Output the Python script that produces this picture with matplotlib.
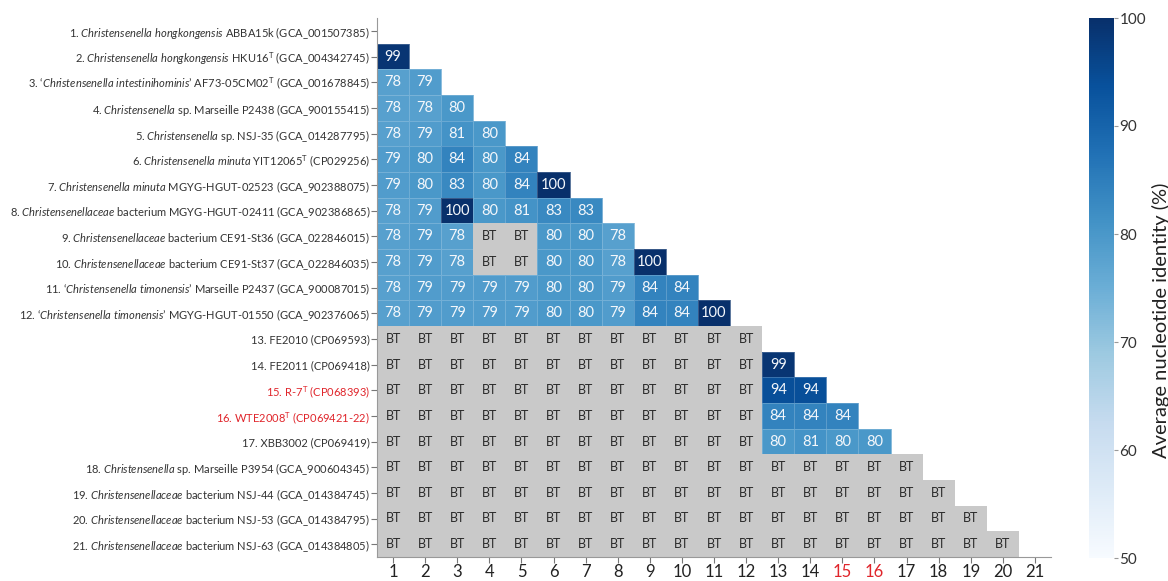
import numpy as np
import matplotlib
matplotlib.use("Agg")
import matplotlib.pyplot as plt
from matplotlib.colors import ListedColormap

plt.rcParams['font.family'] = ['Lato', 'DejaVu Sans']
plt.rcParams['mathtext.fontset'] = 'custom'
plt.rcParams['mathtext.rm'] = 'Lato'
plt.rcParams['mathtext.it'] = 'Lato:italic'

# strain labels (rows), mathtext for italics and superscript T
strain_labels = [
    r"1. $\mathit{Christensenella\ hongkongensis}$ ABBA15k (GCA_001507385)",
    r"2. $\mathit{Christensenella\ hongkongensis}$ HKU16$^{\mathrm{T}}$ (GCA_004342745)",
    r"3. ‘$\mathit{Christensenella\ intestinihominis}$’ AF73-05CM02$^{\mathrm{T}}$ (GCA_001678845)",
    r"4. $\mathit{Christensenella}$ sp. Marseille P2438 (GCA_900155415)",
    r"5. $\mathit{Christensenella}$ sp. NSJ-35 (GCA_014287795)",
    r"6. $\mathit{Christensenella\ minuta}$ YIT12065$^{\mathrm{T}}$ (CP029256)",
    r"7. $\mathit{Christensenella\ minuta}$ MGYG-HGUT-02523 (GCA_902388075)",
    r"8. $\mathit{Christensenellaceae}$ bacterium MGYG-HGUT-02411 (GCA_902386865)",
    r"9. $\mathit{Christensenellaceae}$ bacterium CE91-St36 (GCA_022846015)",
    r"10. $\mathit{Christensenellaceae}$ bacterium CE91-St37 (GCA_022846035)",
    r"11. ‘$\mathit{Christensenella\ timonensis}$’ Marseille P2437 (GCA_900087015)",
    r"12. ‘$\mathit{Christensenella\ timonensis}$’ MGYG-HGUT-01550 (GCA_902376065)",
    r"13. FE2010 (CP069593)",
    r"14. FE2011 (CP069418)",
    r"15. R-7$^{\mathrm{T}}$ (CP068393)",
    r"16. WTE2008$^{\mathrm{T}}$ (CP069421-22)",
    r"17. XBB3002 (CP069419)",
    r"18. $\mathit{Christensenella}$ sp. Marseille P3954 (GCA_900604345)",
    r"19. $\mathit{Christensenellaceae}$ bacterium NSJ-44 (GCA_014384745)",
    r"20. $\mathit{Christensenellaceae}$ bacterium NSJ-53 (GCA_014384795)",
    r"21. $\mathit{Christensenellaceae}$ bacterium NSJ-63 (GCA_014384805)",
]
col_labels = [str(i) for i in range(1, 22)]
highlight = [15, 16]  # new type strains, drawn in red

BT = None  # below threshold
# lower triangle, rows 2..21
ani_rows = [
    [99],
    [78, 79],
    [78, 78, 80],
    [78, 79, 81, 80],
    [79, 80, 84, 80, 84],
    [79, 80, 83, 80, 84, 100],
    [78, 79, 100, 80, 81, 83, 83],
    [78, 79, 78, BT, BT, 80, 80, 78],
    [78, 79, 78, BT, BT, 80, 80, 78, 100],
    [78, 79, 79, 79, 79, 80, 80, 79, 84, 84],
    [78, 79, 79, 79, 79, 80, 80, 79, 84, 84, 100],
    [BT] * 12,
    [BT] * 12 + [99],
    [BT] * 12 + [94, 94],
    [BT] * 12 + [84, 84, 84],
    [BT] * 12 + [80, 81, 80, 80],
    [BT] * 17,
    [BT] * 18,
    [BT] * 19,
    [BT] * 20,
]

n = len(strain_labels)
M = np.full((n, n), np.nan)
bt = np.zeros((n, n))
for i, row in enumerate(ani_rows):
    for j, v in enumerate(row):
        if v is None:
            bt[i + 1, j] = 1
        else:
            M[i + 1, j] = v

fig = plt.figure(figsize=(11.68, 5.81), dpi=100)
ax = fig.add_axes([377 / 1168, 1 - 557 / 581, (1051 - 377) / 1168, (557 - 18) / 581])

edges = np.arange(0.5, n + 1)
mesh = ax.pcolormesh(edges, edges, np.ma.masked_invalid(M), cmap='Blues', vmin=50, vmax=100,
                     edgecolors=(1, 1, 1, 0.2), linewidth=0.5)
ax.pcolormesh(edges, edges, np.ma.masked_where(bt == 0, bt), cmap=ListedColormap(['#c9c9c9']),
              edgecolors='none')

for i in range(n):
    for j in range(n):
        if bt[i, j]:
            ax.text(j + 1, i + 1, "BT", ha='center', va='center', fontsize=9, color='#2a2a2a')
        elif not np.isnan(M[i, j]):
            ax.text(j + 1, i + 1, "%d" % M[i, j], ha='center', va='center', fontsize=10.5, color='#f4f7fb')

ax.set_xlim(0.5, n + 0.5)
ax.set_ylim(n + 0.5, 0.5)
ax.set_xticks(range(1, n + 1))
ax.set_xticklabels(col_labels, fontsize=12, color='#222222')
ax.set_yticks(range(1, n + 1))
ax.set_yticklabels(strain_labels, fontsize=8.0, color='#333333')
for k in highlight:
    ax.get_xticklabels()[k - 1].set_color('#e0252b')
    ax.get_yticklabels()[k - 1].set_color('#e0252b')
ax.tick_params(length=4, width=0.8, color='#777777', pad=1)
for s in ['top', 'right']:
    ax.spines[s].set_visible(False)
for s in ['left', 'bottom']:
    ax.spines[s].set_color('#999999')
    ax.spines[s].set_linewidth(0.8)

# colorbar
cax = fig.add_axes([1089 / 1168, 1 - 558 / 581, 25 / 1168, 540 / 581])
cb = fig.colorbar(mesh, cax=cax, ticks=[50, 60, 70, 80, 90, 100])
cb.outline.set_visible(False)
cb.ax.tick_params(labelsize=11, length=3, color='#999999', labelcolor='#333333', pad=1)
cb.set_label("Average nucleotide identity (%)", fontsize=14.5, color='#222222', labelpad=4)
cb.ax.yaxis.label.set_y(0.44)

fig.savefig("out.png", dpi=100)
